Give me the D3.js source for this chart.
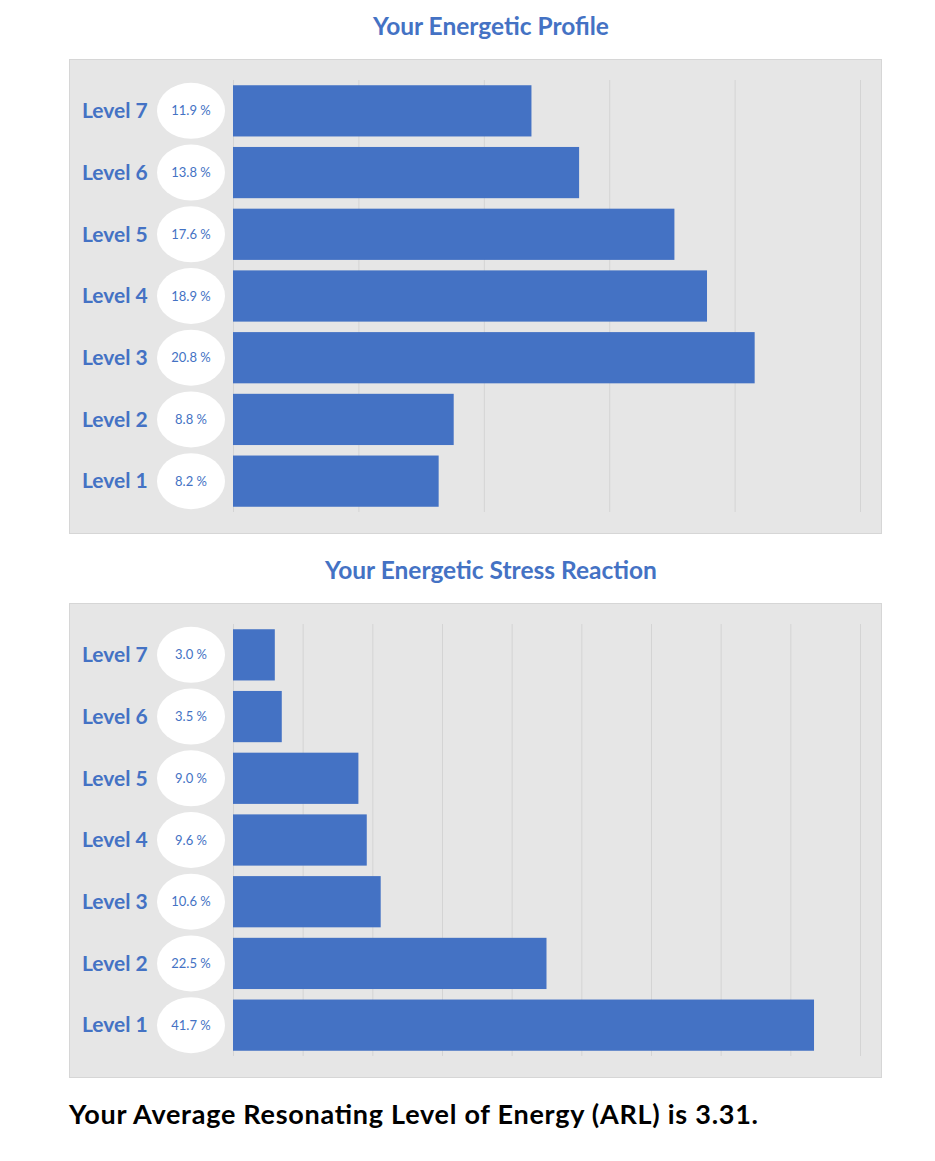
<!DOCTYPE html>
<html>
<head>
<meta charset="utf-8">
<script src="https://cdn.jsdelivr.net/npm/d3@7"></script>
<style>
  body { margin: 0; background: #fff; }
  text { font-family: Lato, "Open Sans", sans-serif; }
</style>
</head>
<body>
<div id="chart"></div>
<script>
// chart data
const levels = ['Level 7', 'Level 6', 'Level 5', 'Level 4', 'Level 3', 'Level 2', 'Level 1'];
const profileValues = [11.9, 13.8, 17.6, 18.9, 20.8, 8.8, 8.2];
const stressValues = [3.0, 3.5, 9.0, 9.6, 10.6, 22.5, 41.7];
const profileTicks = [0, 5, 10, 15, 20, 25];
const stressTicks = [0, 5, 10, 15, 20, 25, 30, 35, 40, 45];
const titles = ['Your Energetic Profile', 'Your Energetic Stress Reaction'];
const footer = 'Your Average Resonating Level of Energy (ARL) is 3.31.';

const width = 935;
const height = 1161;
const blue = '#4472C4';

const svg = d3.select('#chart')
    .append('svg')
    .attr('width', width)
    .attr('height', height);

function drawPanel(title, values, ticks, top) {
    const panel = {x: 69, y: top + 59, w: 812, h: 474};
    const plot = {left: 233, right: 860, top: top + 80, bottom: top + 512};

    svg.append('text')
        .attr('x', 491)
        .attr('y', top + 35)
        .attr('text-anchor', 'middle')
        .attr('font-size', 24.5)
        .attr('font-weight', 'bold')
        .attr('fill', blue)
        .text(title);

    svg.append('rect')
        .attr('x', panel.x + 0.5)
        .attr('y', panel.y + 0.5)
        .attr('width', panel.w)
        .attr('height', panel.h)
        .attr('fill', '#e6e6e6')
        .attr('stroke', '#d6d6d6');

    const xScale = d3.scaleLinear()
        .domain([0, d3.max(ticks)])
        .range([plot.left, plot.right]);

    const yScale = d3.scaleBand()
        .domain(levels)
        .range([plot.top, plot.bottom])
        .paddingInner(0.17)
        .paddingOuter(0.085);

    // gridlines
    const xAxis = d3.axisBottom(xScale)
        .tickValues(ticks)
        .tickSize(-(plot.bottom - plot.top))
        .tickFormat('');

    const grid = svg.append('g')
        .attr('transform', `translate(0, ${plot.bottom})`)
        .call(xAxis);
    grid.select('.domain').remove();
    grid.selectAll('.tick line')
        .attr('stroke', '#d4d4d4')
        .attr('stroke-width', 1);

    // bars
    svg.append('g')
        .selectAll('rect')
        .data(values)
        .enter()
        .append('rect')
        .attr('x', xScale(0))
        .attr('y', (d, i) => yScale(levels[i]))
        .attr('width', d => xScale(d) - xScale(0))
        .attr('height', yScale.bandwidth())
        .attr('fill', blue);

    // level labels
    svg.append('g')
        .selectAll('text')
        .data(levels)
        .enter()
        .append('text')
        .attr('x', 82)
        .attr('y', d => yScale(d) + yScale.bandwidth() / 2)
        .attr('dy', '0.35em')
        .attr('font-size', 21)
        .attr('font-weight', 'bold')
        .attr('fill', blue)
        .text(d => d);

    // bubbles with percentages
    const bubbles = svg.append('g')
        .selectAll('g')
        .data(values)
        .enter()
        .append('g')
        .attr('transform', (d, i) => `translate(191, ${yScale(levels[i]) + yScale.bandwidth() / 2})`);

    bubbles.append('ellipse')
        .attr('rx', 34)
        .attr('ry', 28)
        .attr('fill', '#fff');

    bubbles.append('text')
        .attr('text-anchor', 'middle')
        .attr('dy', '0.35em')
        .attr('font-size', 13)
        .attr('fill', blue)
        .text(d => d.toFixed(1) + ' %');
}

drawPanel(titles[0], profileValues, profileTicks, 0);
drawPanel(titles[1], stressValues, stressTicks, 544);

svg.append('text')
    .attr('x', 69)
    .attr('y', 1124)
    .attr('font-size', 27)
    .attr('font-weight', 'bold')
    .attr('fill', '#000')
    .attr('textLength', 689)
    .attr('lengthAdjust', 'spacing')
    .text(footer);
</script>
</body>
</html>
